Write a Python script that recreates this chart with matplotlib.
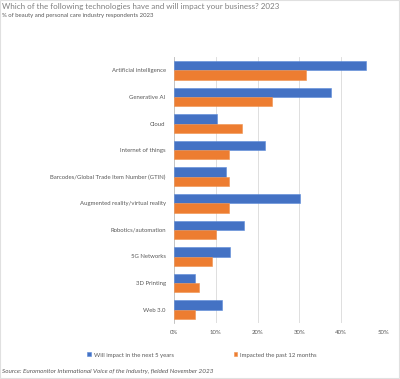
import matplotlib.pyplot as plt
from matplotlib.patches import Rectangle
from matplotlib.ticker import FuncFormatter
import numpy as np

# ---------------------------------------------------------------------
# Data
# ---------------------------------------------------------------------
categories = [
    "Artificial intelligence",
    "Generative AI",
    "Cloud",
    "Internet of things",
    "Barcodes/Global Trade Item Number (GTIN)",
    "Augmented reality/virtual reality",
    "Robotics/automation",
    "5G Networks",
    "3D Printing",
    "Web 3.0",
]
next_5_years = [45.9, 37.5, 10.4, 21.8, 12.4, 30.1, 16.7, 13.5, 5.1, 11.5]
past_12_months = [31.6, 23.4, 16.3, 13.2, 13.2, 13.2, 10.1, 9.2, 6.1, 5.0]
series_names = ["Will impact in the next 5 years", "Impacted the past 12 months"]
x_ticks = [0, 10, 20, 30, 40, 50]

BLUE = "#4472C4"
ORANGE = "#ED7D31"
GREY = "#595959"

plt.rcParams["font.family"] = ["Lato", "DejaVu Sans"]

# ---------------------------------------------------------------------
# Plot
# ---------------------------------------------------------------------
W, H = 400, 379
fig = plt.figure(figsize=(W / 100, H / 100), dpi=100)
fig.patch.set_facecolor("white")

# axes in pixel coords: left 174, right 383, top 57, bottom 323
ax = fig.add_axes([174 / W, 1 - 323 / H, (383 - 174) / W, (323 - 57) / H])

y = np.arange(len(categories))
h = 0.35
ax.barh(y - h / 2, next_5_years, height=h, color=BLUE, edgecolor="#5B8BD9",
        linewidth=0.4, label=series_names[0], zorder=3)
ax.barh(y + h / 2, past_12_months, height=h, color=ORANGE, edgecolor="#F0924F",
        linewidth=0.4, label=series_names[1], zorder=3)

ax.set_ylim(len(categories) - 0.5, -0.5)
ax.set_xlim(0, 50)
ax.set_yticks(y)
ax.set_yticklabels(categories, fontsize=4.3, color=GREY)
ax.set_xticks(x_ticks)
ax.xaxis.set_major_formatter(FuncFormatter(lambda v, p: f"{v:.0f}%"))
ax.tick_params(axis="x", labelsize=4.3, colors=GREY, length=0, pad=5)
ax.tick_params(axis="y", length=0, pad=6)
ax.grid(axis="x", color="#D9D9D9", linewidth=0.6, zorder=0)
for s in ["top", "right", "bottom"]:
    ax.spines[s].set_visible(False)
ax.spines["left"].set_color("#BFBFBF")
ax.spines["left"].set_linewidth(0.6)

# titles
fig.text(2 / W, 1 - 7 / H, "Which of the following technologies have and will impact your business? 2023",
         fontsize=5.75, color="#7F7F7F", va="center", ha="left")
fig.text(2 / W, 1 - 16 / H, "% of beauty and personal care industry respondents 2023",
         fontsize=4.3, color=GREY, va="center", ha="left")

# legend
leg = fig.legend(loc="center", bbox_to_anchor=(202 / W, 1 - 355 / H), ncol=2,
                 fontsize=4.3, frameon=False, handlelength=0.6, handleheight=0.6,
                 columnspacing=10, handletextpad=0.5, labelcolor=GREY)

# source
fig.text(2 / W, 1 - 371 / H, "Source: Euromonitor International Voice of the Industry, fielded November 2023",
         fontsize=4.6, color=GREY, style="italic", va="center", ha="left")

# faint frame
fig.patches.append(Rectangle((0, 0.002), 0.9975, 0.998, transform=fig.transFigure,
                             fill=False, edgecolor="#E0E0E0", linewidth=0.8))

fig.savefig("out.png", dpi=100)
